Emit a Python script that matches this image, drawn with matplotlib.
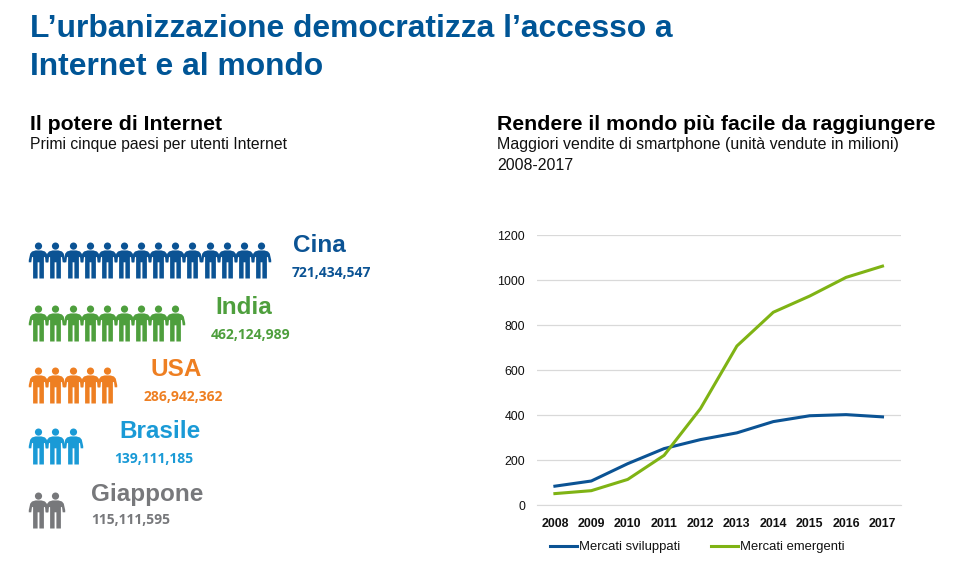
import numpy as np
import matplotlib
matplotlib.use("Agg")
import matplotlib.pyplot as plt
from matplotlib.path import Path

plt.rcParams['font.family'] = ['Liberation Sans', 'DejaVu Sans']

years = ['2008','2009','2010','2011','2012','2013','2014','2015','2016','2017']
developed = [85,108,185,252,292,322,372,398,403,393]
emerging = [52,65,115,222,430,708,858,930,1013,1063]
y_ticks = [0,200,400,600,800,1000,1200]
countries = ['Cina','India','USA','Brasile','Giappone']
users = ['721,434,547','462,124,989','286,942,362','139,111,185','115,111,595']
icons = [14,9,5,3,2]
colors = ['#0B5394','#4E9F3D','#EE7F22','#1A9AD6','#77787B']

W, H = 960, 580
fig = plt.figure(figsize=(W/100, H/100), dpi=100, facecolor='white')
ov = fig.add_axes([0,0,1,1]); ov.set_xlim(0,W); ov.set_ylim(H,0); ov.axis('off')

# person marker (y up in marker space)
head = Path.circle((0,0.80),0.20)
outline = [(-0.16,0.56),(0.16,0.56),(0.36,0.50),(0.46,0.38),(0.54,0.02),(0.54,-0.10),(0.40,-0.10),(0.36,0.20),
           (0.30,0.18),(0.30,-1.0),(0.05,-1.0),(0.05,-0.10),(-0.05,-0.10),(-0.05,-1.0),(-0.30,-1.0),(-0.30,0.18),
           (-0.36,0.20),(-0.40,-0.10),(-0.54,-0.10),(-0.54,0.02),(-0.46,0.38),(-0.36,0.50),(-0.16,0.56)]
person = Path.make_compound_path(head, Path(outline))

row_y = [260,323,385,446,510]
label_pos = [(293,246),(215,307),(151,369),(119,432),(91,494)]
value_pos = [(292,273),(211,335),(144,397),(114,459),(91,520)]
sx = 17.13
for n,y,cn,u,lp,vp,col in zip(icons,row_y,countries,users,label_pos,value_pos,colors):
    ov.plot(38.3+sx*np.arange(n), np.full(n,y), ls='none', marker=person, ms=36*0.72, mfc=col, mec='none')
    ov.text(lp[0],lp[1],cn,color=col,fontsize=17.5,fontweight='bold',va='center',ha='left')
    ov.text(vp[0],vp[1],u,color=col,fontsize=10,fontweight='bold',va='center',ha='left',family='Open Sans')

blue='#005596'
ov.text(30,29,'L\u2019urbanizzazione democratizza l\u2019accesso a',color=blue,fontsize=22.9,fontweight='bold',va='center')
ov.text(30,67,'Internet e al mondo',color=blue,fontsize=22.9,fontweight='bold',va='center')
ov.text(30,124,'Il potere di Internet',color='black',fontsize=15.3,fontweight='bold',va='center')
ov.text(30,145,'Primi cinque paesi per utenti Internet',color='#111111',fontsize=11.3,va='center')
ov.text(497,124,'Rendere il mondo più facile da raggiungere',color='black',fontsize=15.3,fontweight='bold',va='center')
ov.text(497,145,'Maggiori vendite di smartphone (unità vendute in milioni)',color='#111111',fontsize=11.5,va='center')
ov.text(497,165,'2008-2017',color='#111111',fontsize=11.4,va='center')

L,R,T,B = 536.7,900.7,235.3,505.3
ax = fig.add_axes([L/W,1-B/H,(R-L)/W,(B-T)/H]); ax.patch.set_alpha(0)
x = np.arange(len(years))
l1, = ax.plot(x,developed,color='#0B5394',lw=2.2,label='Mercati sviluppati')
l2, = ax.plot(x,emerging,color='#7FB314',lw=2.2,label='Mercati emergenti')
ax.set_xlim(-0.5,9.5); ax.set_ylim(0,1200)
ax.set_xticks(x,years,fontweight='bold',fontsize=8.7)
ax.set_yticks(y_ticks)
ax.tick_params(axis='both',length=0,labelsize=8.9,colors='#111111')
ax.tick_params(axis='x',pad=9.5)
ax.tick_params(axis='y',pad=8.5)
ax.grid(axis='y',color='#D9D9D9',lw=0.9); ax.set_axisbelow(True)
for s in ax.spines.values(): s.set_visible(False)
ax.spines['bottom'].set_visible(True); ax.spines['bottom'].set_color('#D9D9D9')
ax.legend(handles=[l1,l2],loc='upper left',bbox_to_anchor=((550-L)/(R-L),(B-541)/(B-T)),ncol=2,frameon=False,
          fontsize=9.4,handlelength=2.1,handletextpad=0.15,columnspacing=2.3,borderpad=0,borderaxespad=0,labelcolor='#111111')
fig.savefig('out.png',dpi=100)
